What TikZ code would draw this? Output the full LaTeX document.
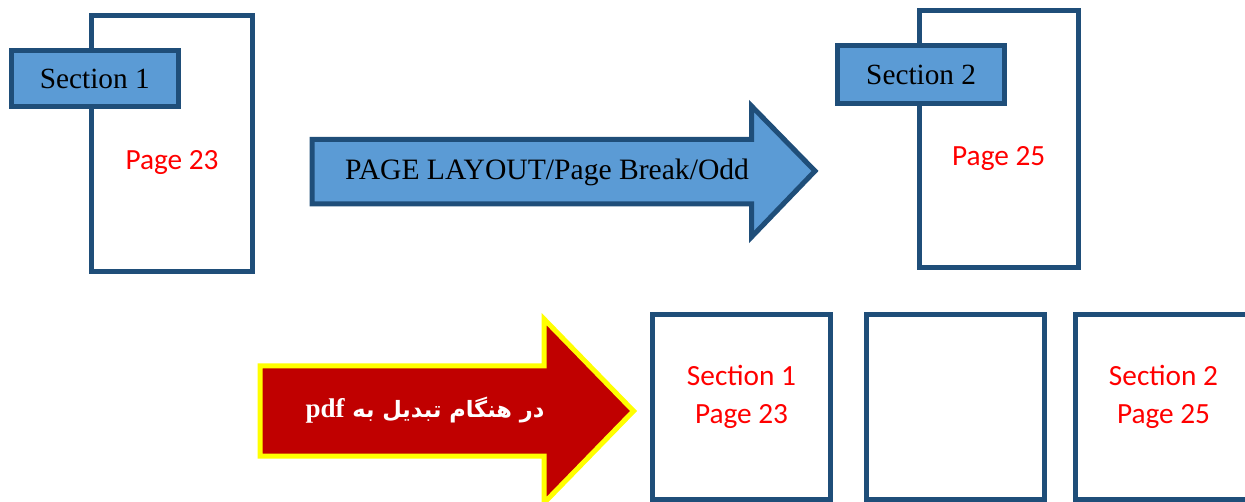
\documentclass[tikz,border=0pt]{standalone}
\usepackage{fontspec}
\setmainfont{Liberation Serif}
\newfontfamily\calibri{Carlito}
\newfontfamily\arabicfont[Script=Arabic]{DejaVu Sans}
\TeXXeTstate=1
\definecolor{frameblue}{RGB}{31,78,121}
\definecolor{fillblue}{RGB}{91,155,213}
\definecolor{arrowred}{RGB}{192,0,0}
\definecolor{rimyellow}{RGB}{255,255,0}

\begin{document}
\begin{tikzpicture}[x=1pt, y=-1pt,
    pageframe/.style={draw=frameblue, line width=5pt, inner sep=0pt},
    secbox/.style={draw=frameblue, fill=fillblue, line width=5pt, inner sep=0pt,
        font=\fontsize{29.3}{34}\selectfont},
    pagelabel/.style={text=red, align=center, inner sep=0pt,
        font=\calibri\fontsize{29.3}{37.5}\selectfont}]
    \clip (0, 0) rectangle (1245, 502);
    % top: pages before the break
    \node[pageframe, minimum width=160.7pt, minimum height=256.6pt] (page23) 
        at (172.15, 143.5) {};
    \node[secbox, minimum width=167.5pt, minimum height=55.7pt] (sec1) 
        at (94.75, 78.85) {Section 1};
    \node[pagelabel] (p23) at (172, 163) {Page 23};
    \node[pageframe, minimum width=159.3pt, minimum height=256.7pt] (page25) 
        at (998.85, 139.15) {};
    \node[secbox, minimum width=167.3pt, minimum height=57.7pt] (sec2) 
        at (921.15, 74.65) {Section 2};
    \node[pagelabel] (p25) at (998.7, 159) {Page 25};
    % blue arrow
    \filldraw[draw=frameblue, fill=fillblue, line width=5pt] (312, 139.5) 
        -- (751.5, 139.5) -- (751.5, 106) -- (815, 171) -- (751.5, 237) 
        -- (751.5, 204) -- (312, 204) -- cycle;
    \node[font=\fontsize{29.6}{34}\selectfont] (layout) at (547, 172) 
        {PAGE LAYOUT/Page Break/Odd};
    % red arrow
    \filldraw[draw=rimyellow, fill=arrowred, line width=5pt] (260, 366) 
        -- (544, 366) -- (544, 319) -- (633.5, 411) -- (544, 503) 
        -- (544, 456) -- (260, 456) -- cycle;
    \node[text=white, font=\arabicfont\bfseries\fontsize{22.5}{26}\selectfont] 
        (topdf) at (425, 410) 
        {\beginR در هنگام تبدیل به \beginL{\rmfamily\bfseries\fontsize{27}{30}\selectfont pdf}\endL\endR};
    % bottom: pages in the pdf
    \node[pageframe, minimum width=178pt, minimum height=185pt] (pdfa) 
        at (741.5, 407) {};
    \node[pageframe, minimum width=178pt, minimum height=185pt] (pdfb) 
        at (955.5, 407) {};
    \node[pageframe, minimum width=178pt, minimum height=185pt] (pdfc) 
        at (1164.5, 407) {};
    \node[pagelabel] (s1p23) at (741.5, 397) {Section 1\\Page 23};
    \node[pagelabel] (s2p25) at (1163.5, 397) {Section 2\\Page 25};
\end{tikzpicture}
\end{document}
